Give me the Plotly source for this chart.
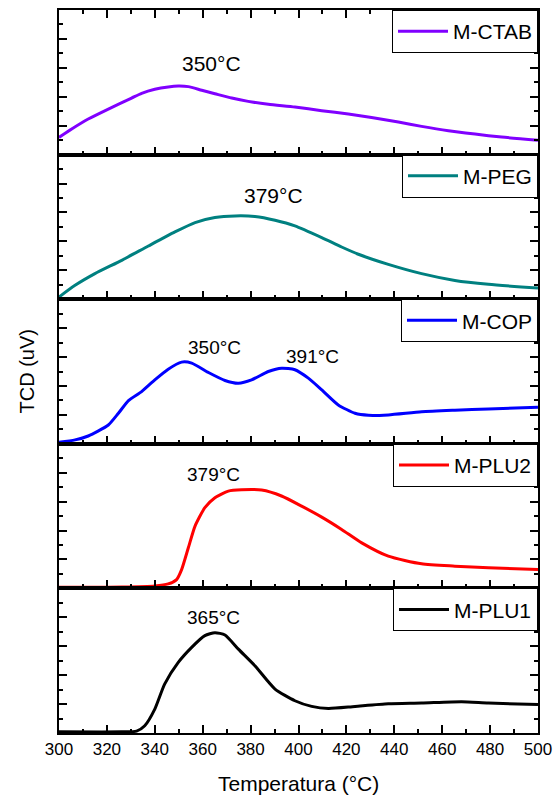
import plotly.graph_objects as go

# ---- data (y in arbitrary TCD units, 0-100 per panel) ----
ctab_x = [300, 305.3, 312.2, 320.6, 330.3, 334.5, 340, 345.6, 349.8, 354, 359.6, 365.1, 372.1, 379,
          387.4, 398.5, 409.7, 420.8, 430.5, 441.7, 451.4, 462.6, 473.7, 484.8, 500]
ctab_y = [11.9, 17.7, 24.6, 31.5, 39.1, 42.4, 45.2, 46.8, 47.4, 47.0, 44.5, 42.1, 39.1, 36.8,
          34.8, 32.9, 30.4, 28.1, 25.7, 22.5, 19.5, 16.5, 14.2, 12.1, 10.0]

peg_x = [300, 306.7, 315, 326.2, 337.3, 348.4, 356.8, 365.1, 373.5, 381.8, 390.2, 398.5, 409.7,
         418, 425, 437.5, 451.4, 465.3, 479.3, 500]
peg_y = [1.5, 9.6, 17.7, 26.9, 36.8, 46.5, 53.0, 56.5, 57.6, 57.2, 54.6, 50.7, 42.6,
         36.1, 31.1, 24.1, 17.7, 13.0, 10.3, 7.7]

cop_x = [300, 306.7, 312.2, 320.6, 324.8, 329, 334.5, 340, 345.6, 351.2, 355.4, 362.4, 369.3,
         374.9, 380.4, 387.4, 393, 398.5, 404.1, 409.7, 416.6, 423.6, 429.2, 437.5, 451.4,
         465.3, 479.3, 500]
cop_y = [1.0, 2.7, 5.4, 13.0, 21.1, 29.9, 36.1, 44.2, 51.6, 56.5, 55.8, 49.3, 43.8,
         41.9, 44.2, 50.0, 52.3, 51.2, 45.4, 37.3, 26.9, 21.1, 19.7, 20.0, 22.1,
         23.2, 24.1, 25.3]

plu2_x = [300, 326.2, 340, 345.6, 349.1, 351.2, 354, 356.8, 360.9, 365.1, 370.7, 376.2, 384.6,
          392.9, 401.3, 409.7, 418, 426.4, 437.5, 451.4, 465.3, 479.3, 500]
plu2_y = [0.8, 1.0, 1.7, 3.1, 6.1, 13.0, 28.1, 43.1, 55.8, 62.7, 67.3, 68.2, 68.0,
          63.9, 56.9, 49.3, 40.8, 31.5, 22.3, 17.0, 15.4, 14.2, 13.0]

plu1_x = [300, 326.2, 332.4, 335.8, 340, 344.1, 349.8, 355.4, 360.9, 365.1, 369.3, 374.9, 381.8,
          390.2, 398.5, 405.5, 412.5, 423.6, 437.5, 451.4, 468.1, 479.3, 500]
plu1_y = [0.8, 0.8, 1.3, 5.0, 16.5, 33.8, 48.8, 59.2, 67.3, 69.4, 67.8, 58.0, 46.5,
          30.4, 22.3, 18.4, 17.0, 18.4, 20.2, 20.7, 21.6, 20.7, 19.7]

names = ["M-CTAB", "M-PEG", "M-COP", "M-PLU2", "M-PLU1"]
colors = ["#8000FF", "#008080", "#0000FF", "#FF0000", "#000000"]
series = [(ctab_x, ctab_y), (peg_x, peg_y), (cop_x, cop_y), (plu2_x, plu2_y), (plu1_x, plu1_y)]

# peak labels
peak_panel = [0, 1, 2, 2, 3, 4]
peak_x = [363.7, 389.5, 364.9, 406.0, 364.3, 364.3]
peak_y = [62.7, 71.5, 66.9, 60.4, 78.6, 79.8]
peak_text = ["350°C", "379°C", "350°C", "391°C", "379°C", "365°C"]
peak_size = [21, 21, 19, 19, 19, 19]

x_ticks = [300, 320, 340, 360, 380, 400, 420, 440, 460, 480, 500]

FONT = "Arial, Liberation Sans, sans-serif"

fig = go.Figure()
n = len(names)
for i, (nm, col, (xs, ys)) in enumerate(zip(names, colors, series)):
    k = "" if i == 0 else str(i + 1)
    fig.add_trace(go.Scatter(
        x=xs, y=ys, mode="lines", name=nm,
        line=dict(color=col, width=3, shape="spline", smoothing=0.6),
        xaxis="x" + k, yaxis="y" + k, legend="legend" + k,
    ))

layout = dict(
    width=555, height=795,
    margin=dict(l=59, r=17, t=10, b=62, autoexpand=False),
    paper_bgcolor="white", plot_bgcolor="white",
    font=dict(family=FONT, color="black"),
    showlegend=True,
)

for i in range(n):
    k = "" if i == 0 else str(i + 1)
    top = 1 - i / n
    bot = 1 - (i + 1) / n
    last = (i == n - 1)
    layout["xaxis" + k] = dict(
        domain=[0, 1], anchor="y" + k, range=[300, 500], automargin=False,
        tickvals=x_ticks, ticks="inside", ticklen=8, tickwidth=1.5, tickcolor="black",
        minor=dict(dtick=10, tick0=300, ticks="inside", ticklen=4, tickwidth=1.5, tickcolor="black"),
        showline=True, linecolor="black", linewidth=2,
        mirror="ticks" if i == 0 else True,
        showgrid=False, zeroline=False,
        showticklabels=last,
        tickfont=dict(size=17, family=FONT),
        matches=None if i == 0 else "x",
    )
    layout["yaxis" + k] = dict(
        domain=[bot, top], anchor="x" + k, range=[0, 100], automargin=False,
        tick0=0, dtick=20, ticks="inside", ticklen=8, tickwidth=1.5, tickcolor="black",
        minor=dict(dtick=10, tick0=0, ticks="inside", ticklen=4, tickwidth=1.5, tickcolor="black"),
        showline=True, linecolor="black", linewidth=2, mirror="ticks",
        showgrid=False, zeroline=False, showticklabels=False,
    )
    layout["legend" + k] = dict(
        x=1, y=top, xanchor="right", yanchor="top", xref="paper", yref="paper",
        bgcolor="white", bordercolor="black", borderwidth=1,
        font=dict(size=21, family=FONT, color="black"),
        itemwidth=50, tracegroupgap=0,
    )

annotations = []
for p, x, y, t, s in zip(peak_panel, peak_x, peak_y, peak_text, peak_size):
    k = "" if p == 0 else str(p + 1)
    annotations.append(dict(x=x, y=y, xref="x" + k, yref="y" + k, text=t, showarrow=False,
                            font=dict(size=s, family=FONT, color="black"),
                            xanchor="center", yanchor="middle"))
annotations.append(dict(x=0, y=0.5, xref="paper", yref="paper", text="TCD (uV)", showarrow=False,
                        textangle=-90, xshift=-33, xanchor="center", yanchor="middle",
                        font=dict(size=20, family=FONT, color="black")))
annotations.append(dict(x=0.5, y=0, xref="paper", yref="paper", text="Temperatura (°C)",
                        showarrow=False, yshift=-50, xanchor="center", yanchor="middle",
                        font=dict(size=21, family=FONT, color="black")))
layout["annotations"] = annotations

fig.update_layout(**layout)
fig.write_html("out.html")
